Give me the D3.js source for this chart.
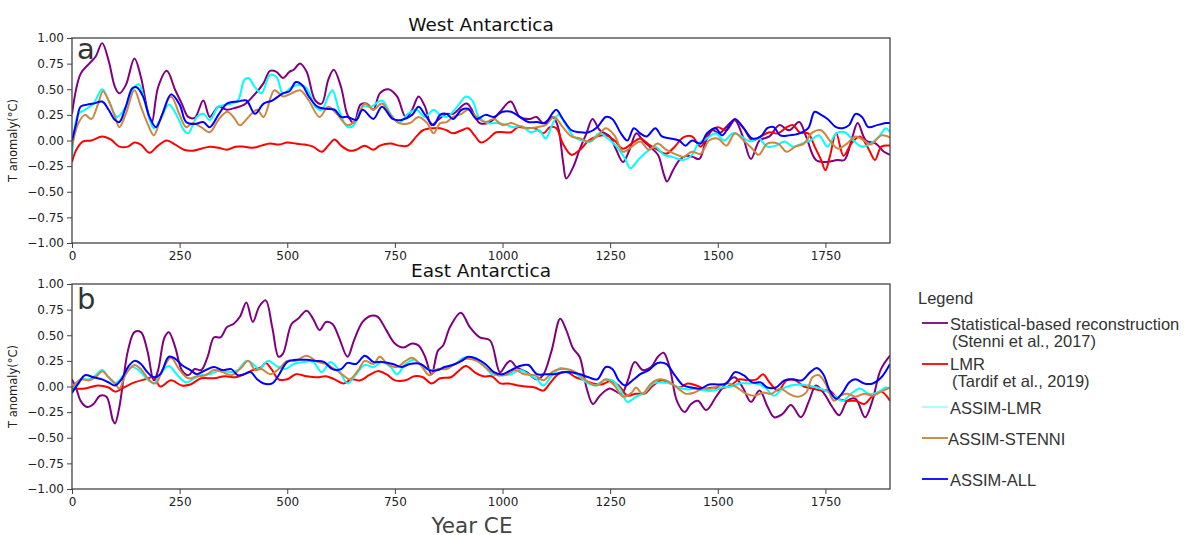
<!DOCTYPE html>
<html>
<head>
<meta charset="utf-8">
<script src="https://cdnjs.cloudflare.com/ajax/libs/d3/7.8.5/d3.min.js"></script>
<style>
  html, body { margin: 0; padding: 0; background: #fff; }
  svg { display: block; }
</style>
</head>
<body>
<svg id="chart" width="1189" height="535"></svg>
<script>
// ---- West Antarctica: [year CE, T anomaly °C] ----
const westStenni = [[0,0.26],[20,0.65],[40,0.75],[55,0.82],[70,0.95],[85,0.78],[100,0.52],[110,0.46],[125,0.54],[145,0.80],[160,0.62],[175,0.30],[185,0.17],[200,0.52],[220,0.68],[240,0.49],[255,0.36],[270,0.23],[285,0.22],[305,0.39],[320,0.23],[340,0.33],[360,0.30],[380,0.32],[400,0.35],[420,0.43],[445,0.56],[460,0.68],[475,0.67],[490,0.61],[505,0.67],[515,0.69],[530,0.75],[545,0.67],[565,0.39],[580,0.36],[595,0.59],[608,0.69],[625,0.52],[640,0.25],[655,0.17],[670,0.35],[685,0.36],[700,0.30],[715,0.46],[735,0.50],[755,0.43],[775,0.23],[790,0.30],[805,0.43],[820,0.33],[835,0.15],[850,0.20],[870,0.26],[885,0.26],[917,0.36],[947,0.17],[971,0.18],[994,0.28],[1019,0.38],[1040,0.23],[1063,0.21],[1079,0.23],[1094,0.17],[1117,0.23],[1129,0.13],[1141,-0.22],[1148,-0.37],[1164,-0.26],[1179,-0.09],[1195,0.07],[1209,0.21],[1226,0.10],[1249,0.04],[1264,-0.09],[1280,-0.21],[1295,-0.09],[1311,0.07],[1326,0.00],[1342,-0.06],[1361,-0.14],[1374,-0.32],[1382,-0.40],[1396,-0.29],[1411,-0.19],[1427,-0.15],[1442,-0.16],[1457,-0.18],[1473,0.00],[1488,0.10],[1504,0.07],[1519,0.13],[1539,0.20],[1558,0.04],[1577,-0.18],[1597,0.00],[1620,0.04],[1643,0.15],[1666,0.10],[1689,0.18],[1705,0.04],[1728,-0.19],[1751,-0.21],[1778,-0.19],[1794,-0.19],[1813,0.04],[1825,0.17],[1844,0.00],[1867,-0.03],[1886,-0.11],[1900,-0.14]];
const westLMR = [[0,-0.21],[10,-0.09],[25,-0.01],[45,0.00],[70,0.04],[90,0.01],[110,-0.06],[130,-0.06],[145,-0.02],[160,-0.04],[180,-0.12],[200,-0.05],[220,0.00],[240,-0.04],[260,-0.09],[280,-0.10],[300,-0.08],[320,-0.06],[340,-0.07],[360,-0.09],[380,-0.06],[400,-0.06],[420,-0.07],[440,-0.05],[460,-0.03],[480,-0.04],[500,-0.02],[520,-0.03],[540,-0.04],[560,-0.06],[580,-0.11],[595,-0.05],[610,0.01],[625,-0.05],[645,-0.10],[660,-0.09],[680,-0.05],[700,-0.09],[715,-0.05],[740,-0.03],[760,-0.05],[780,-0.05],[800,0.04],[815,0.10],[840,0.12],[855,0.12],[870,0.10],[885,0.07],[905,0.10],[920,0.12],[935,0.05],[950,-0.02],[965,0.01],[985,0.08],[1005,0.08],[1020,0.08],[1035,0.13],[1055,0.12],[1075,0.12],[1095,0.07],[1110,0.13],[1125,0.12],[1140,-0.03],[1160,-0.14],[1180,-0.09],[1200,0.00],[1220,0.04],[1240,0.05],[1260,0.00],[1280,-0.08],[1300,-0.03],[1320,0.02],[1340,-0.04],[1360,-0.09],[1380,-0.13],[1400,-0.06],[1420,0.03],[1440,0.04],[1460,-0.06],[1480,0.08],[1500,0.13],[1520,0.10],[1540,0.20],[1560,0.12],[1580,0.00],[1600,0.04],[1620,0.08],[1640,0.07],[1660,0.13],[1675,0.15],[1690,0.08],[1710,0.07],[1725,-0.06],[1740,-0.19],[1750,-0.29],[1760,-0.16],[1775,0.07],[1792,-0.15],[1810,-0.03],[1830,0.04],[1850,-0.08],[1865,-0.19],[1880,-0.06],[1900,-0.05]];
const westAssimLMR = [[0,-0.16],[15,0.26],[30,0.30],[50,0.36],[70,0.50],[85,0.39],[105,0.23],[125,0.33],[140,0.49],[155,0.55],[170,0.36],[190,0.12],[205,0.20],[225,0.35],[245,0.23],[260,0.10],[270,0.07],[290,0.23],[305,0.26],[320,0.20],[340,0.33],[360,0.35],[385,0.39],[400,0.59],[410,0.61],[425,0.52],[440,0.46],[460,0.64],[475,0.62],[490,0.46],[510,0.52],[530,0.54],[545,0.51],[565,0.33],[580,0.30],[595,0.43],[605,0.49],[620,0.30],[640,0.13],[655,0.15],[675,0.33],[695,0.33],[720,0.39],[740,0.26],[760,0.17],[780,0.26],[800,0.30],[820,0.23],[840,0.30],[855,0.25],[870,0.23],[885,0.28],[900,0.36],[915,0.43],[930,0.39],[945,0.23],[965,0.17],[985,0.17],[1005,0.16],[1025,0.13],[1045,0.14],[1065,0.08],[1085,0.10],[1100,0.02],[1115,0.15],[1130,0.25],[1145,0.17],[1165,0.04],[1185,0.00],[1205,-0.01],[1225,0.07],[1245,0.02],[1265,-0.06],[1285,-0.18],[1297,-0.27],[1315,-0.19],[1335,-0.11],[1355,-0.06],[1375,-0.14],[1395,-0.16],[1420,-0.19],[1440,-0.14],[1455,-0.03],[1475,0.02],[1495,0.07],[1515,0.00],[1535,0.07],[1555,0.04],[1575,-0.01],[1595,0.02],[1615,-0.06],[1635,-0.05],[1655,-0.01],[1675,-0.06],[1695,-0.03],[1715,0.00],[1735,0.05],[1755,-0.06],[1775,0.07],[1795,0.08],[1815,0.00],[1835,-0.06],[1855,-0.03],[1875,0.04],[1890,0.12],[1900,0.08]];
const westAssimStenni = [[0,-0.06],[15,0.17],[30,0.25],[45,0.21],[60,0.35],[72,0.48],[85,0.39],[100,0.23],[110,0.13],[125,0.26],[145,0.49],[160,0.33],[175,0.17],[190,0.05],[205,0.20],[230,0.43],[250,0.25],[265,0.13],[280,0.17],[300,0.13],[320,0.08],[340,0.20],[360,0.28],[375,0.23],[390,0.15],[410,0.23],[430,0.30],[445,0.23],[470,0.49],[490,0.43],[510,0.46],[530,0.49],[550,0.39],[575,0.23],[595,0.33],[615,0.26],[640,0.15],[660,0.20],[680,0.36],[700,0.30],[720,0.36],[740,0.25],[760,0.17],[785,0.17],[805,0.23],[825,0.17],[840,0.07],[855,0.17],[870,0.18],[885,0.23],[905,0.26],[920,0.30],[940,0.23],[960,0.18],[980,0.21],[1000,0.15],[1020,0.17],[1040,0.14],[1060,0.12],[1080,0.13],[1100,0.15],[1120,0.23],[1140,0.13],[1160,0.04],[1180,0.02],[1200,-0.01],[1220,0.04],[1240,0.12],[1260,0.05],[1280,-0.11],[1300,-0.06],[1320,-0.01],[1340,-0.09],[1360,-0.03],[1380,-0.09],[1400,-0.13],[1420,-0.16],[1440,-0.11],[1460,-0.13],[1480,0.00],[1500,0.02],[1520,-0.05],[1540,0.07],[1560,0.00],[1580,-0.08],[1595,-0.14],[1615,-0.03],[1640,-0.03],[1660,-0.11],[1680,-0.06],[1700,-0.03],[1720,0.08],[1740,0.10],[1760,0.00],[1780,-0.08],[1800,-0.03],[1820,0.04],[1840,0.00],[1855,-0.04],[1880,0.05],[1900,0.03]];
const westAssimAll = [[0,0.00],[10,0.17],[20,0.33],[35,0.35],[50,0.36],[70,0.38],[85,0.30],[100,0.20],[110,0.18],[125,0.33],[140,0.51],[150,0.52],[165,0.43],[180,0.23],[195,0.13],[210,0.26],[230,0.45],[250,0.35],[265,0.18],[285,0.16],[305,0.18],[320,0.13],[340,0.25],[360,0.36],[385,0.38],[405,0.39],[425,0.26],[445,0.36],[465,0.39],[490,0.46],[505,0.48],[520,0.57],[535,0.54],[550,0.43],[570,0.33],[590,0.31],[610,0.30],[625,0.23],[640,0.23],[660,0.20],[675,0.30],[700,0.21],[720,0.33],[745,0.21],[765,0.20],[790,0.25],[805,0.33],[820,0.25],[840,0.15],[855,0.25],[870,0.26],[885,0.21],[905,0.30],[920,0.31],[940,0.21],[960,0.25],[980,0.23],[1000,0.28],[1020,0.28],[1040,0.23],[1060,0.18],[1080,0.18],[1100,0.17],[1115,0.26],[1125,0.30],[1140,0.21],[1160,0.10],[1180,0.08],[1200,0.08],[1220,0.13],[1240,0.23],[1255,0.21],[1275,0.07],[1290,0.00],[1305,0.12],[1320,0.07],[1335,0.04],[1355,0.12],[1370,0.04],[1390,0.02],[1410,0.00],[1425,-0.05],[1440,0.00],[1460,-0.03],[1475,0.07],[1495,0.12],[1510,0.05],[1525,0.13],[1540,0.21],[1560,0.12],[1580,0.02],[1600,0.04],[1615,0.12],[1630,0.13],[1645,0.05],[1665,0.05],[1690,0.07],[1710,0.12],[1725,0.28],[1740,0.25],[1755,0.21],[1775,0.13],[1790,0.12],[1805,0.15],[1820,0.26],[1835,0.23],[1850,0.13],[1870,0.15],[1890,0.17],[1900,0.17]];

// ---- East Antarctica: [year CE, T anomaly °C] ----
const eastStenni = [[0,0.07],[10,-0.02],[20,-0.14],[35,-0.20],[50,-0.17],[65,-0.09],[80,-0.10],[95,-0.33],[100,-0.36],[110,-0.20],[120,0.09],[130,0.35],[145,0.53],[160,0.53],[175,0.35],[190,0.06],[200,0.16],[215,0.48],[225,0.53],[240,0.38],[255,0.16],[270,0.11],[285,0.17],[300,0.16],[315,0.29],[330,0.48],[345,0.48],[360,0.58],[375,0.61],[390,0.68],[405,0.82],[420,0.63],[435,0.78],[450,0.84],[465,0.58],[480,0.29],[490,0.32],[510,0.61],[525,0.66],[545,0.74],[560,0.66],[575,0.55],[590,0.63],[605,0.61],[620,0.48],[640,0.29],[655,0.45],[675,0.63],[695,0.69],[710,0.68],[730,0.55],[750,0.42],[770,0.38],[790,0.42],[805,0.40],[820,0.29],[835,0.12],[850,0.35],[862,0.40],[878,0.58],[903,0.72],[924,0.58],[947,0.48],[971,0.45],[994,0.14],[1009,0.22],[1019,0.25],[1032,0.19],[1056,0.14],[1079,0.07],[1094,0.11],[1114,0.35],[1134,0.66],[1148,0.55],[1164,0.37],[1179,0.29],[1195,-0.01],[1210,-0.17],[1226,-0.09],[1249,-0.02],[1276,-0.07],[1291,0.06],[1307,0.24],[1326,0.16],[1345,0.19],[1361,0.29],[1374,0.33],[1388,0.19],[1405,-0.14],[1423,-0.25],[1438,-0.17],[1454,-0.14],[1473,-0.23],[1496,-0.10],[1519,0.03],[1539,0.09],[1558,-0.01],[1577,-0.15],[1597,-0.04],[1616,-0.20],[1631,-0.30],[1650,-0.27],[1670,-0.18],[1693,-0.30],[1712,-0.14],[1728,0.01],[1747,-0.07],[1766,-0.20],[1782,-0.28],[1801,-0.14],[1820,-0.12],[1842,-0.30],[1859,-0.14],[1878,0.16],[1900,0.30]];
const eastLMR = [[0,-0.02],[30,-0.02],[60,0.01],[85,-0.01],[100,-0.05],[120,-0.01],[145,0.04],[170,0.07],[190,0.09],[205,0.00],[230,0.06],[255,0.01],[275,0.02],[300,0.08],[330,0.08],[355,0.10],[380,0.09],[400,0.12],[420,0.16],[440,0.19],[450,0.23],[465,0.16],[480,0.07],[500,0.07],[520,0.12],[545,0.10],[570,0.09],[590,0.10],[610,0.07],[630,0.03],[650,0.07],[670,0.06],[690,0.11],[710,0.15],[730,0.12],[750,0.06],[775,0.06],[795,0.10],[815,0.09],[835,0.03],[855,0.08],[880,0.09],[895,0.14],[915,0.20],[935,0.14],[955,0.10],[975,0.10],[995,0.03],[1015,0.03],[1035,0.01],[1055,0.00],[1075,-0.01],[1095,-0.04],[1110,0.03],[1130,0.12],[1150,0.14],[1170,0.09],[1190,0.06],[1210,0.03],[1230,0.02],[1250,0.05],[1270,0.01],[1290,-0.09],[1310,-0.07],[1330,-0.07],[1350,0.01],[1370,0.06],[1390,0.03],[1410,-0.01],[1430,0.03],[1450,0.01],[1470,-0.02],[1490,-0.01],[1510,-0.02],[1530,0.01],[1550,0.07],[1570,0.06],[1590,0.07],[1605,0.12],[1620,0.04],[1640,-0.04],[1660,0.06],[1680,0.06],[1700,0.00],[1720,-0.02],[1740,-0.04],[1760,-0.04],[1780,-0.12],[1800,-0.14],[1820,-0.14],[1840,-0.17],[1860,-0.09],[1880,-0.05],[1900,-0.14]];
const eastAssimLMR = [[0,-0.07],[20,0.07],[40,0.07],[55,0.11],[70,0.16],[85,0.09],[100,0.03],[120,0.11],[140,0.19],[155,0.16],[175,0.07],[190,0.03],[205,0.12],[225,0.20],[245,0.11],[265,0.04],[280,0.07],[300,0.11],[320,0.12],[345,0.16],[365,0.14],[385,0.16],[405,0.25],[420,0.22],[435,0.17],[455,0.25],[475,0.20],[495,0.17],[515,0.22],[540,0.24],[560,0.24],[580,0.14],[600,0.24],[620,0.16],[640,0.03],[660,0.12],[680,0.21],[700,0.19],[720,0.24],[740,0.19],[755,0.12],[775,0.22],[795,0.26],[815,0.19],[835,0.16],[855,0.17],[870,0.19],[890,0.22],[910,0.28],[935,0.28],[955,0.22],[975,0.12],[1000,0.11],[1020,0.12],[1040,0.16],[1060,0.12],[1080,0.07],[1095,0.01],[1115,0.11],[1135,0.18],[1155,0.16],[1175,0.11],[1195,0.04],[1215,0.01],[1235,0.06],[1255,0.06],[1275,-0.04],[1290,-0.15],[1310,-0.10],[1330,-0.06],[1350,0.03],[1370,0.04],[1390,0.03],[1410,-0.01],[1430,-0.03],[1450,-0.02],[1470,-0.04],[1490,-0.04],[1510,-0.01],[1530,0.00],[1550,0.03],[1570,0.03],[1590,0.03],[1610,-0.01],[1630,-0.09],[1650,-0.02],[1670,0.01],[1690,0.02],[1710,0.01],[1730,-0.01],[1750,-0.04],[1770,-0.09],[1790,-0.14],[1810,-0.07],[1830,-0.02],[1850,-0.07],[1870,-0.06],[1890,-0.01],[1900,-0.02]];
const eastAssimStenni = [[0,-0.01],[20,0.07],[40,0.06],[55,0.09],[70,0.15],[85,0.09],[100,0.03],[110,-0.02],[125,0.12],[145,0.21],[160,0.17],[180,0.06],[195,0.03],[210,0.16],[230,0.28],[250,0.16],[270,0.08],[290,0.10],[310,0.11],[330,0.16],[350,0.14],[370,0.11],[390,0.17],[410,0.25],[425,0.16],[440,0.17],[460,0.12],[480,0.17],[500,0.25],[520,0.25],[545,0.30],[570,0.24],[590,0.22],[610,0.17],[630,0.11],[645,0.07],[665,0.16],[680,0.25],[700,0.22],[715,0.29],[735,0.21],[755,0.19],[775,0.25],[790,0.28],[810,0.21],[830,0.11],[850,0.17],[870,0.17],[890,0.22],[915,0.27],[940,0.25],[965,0.17],[990,0.11],[1010,0.12],[1030,0.16],[1050,0.12],[1075,0.11],[1095,0.06],[1115,0.14],[1135,0.17],[1160,0.16],[1180,0.11],[1200,0.04],[1220,0.01],[1240,0.07],[1260,0.01],[1280,-0.10],[1300,-0.06],[1310,-0.01],[1325,-0.07],[1345,0.03],[1365,0.07],[1385,0.05],[1405,-0.01],[1425,-0.07],[1445,-0.06],[1465,-0.02],[1485,-0.02],[1505,0.01],[1525,0.03],[1545,-0.01],[1565,-0.07],[1585,-0.09],[1605,-0.06],[1625,-0.07],[1645,-0.02],[1665,-0.07],[1685,-0.10],[1705,-0.06],[1720,0.09],[1735,0.11],[1750,0.03],[1770,-0.14],[1785,-0.09],[1800,-0.07],[1820,-0.10],[1840,-0.07],[1860,-0.09],[1880,-0.05],[1900,-0.01]];
const eastAssimAll = [[0,-0.06],[15,0.03],[30,0.11],[50,0.09],[70,0.07],[85,0.04],[100,0.01],[115,0.07],[130,0.19],[145,0.25],[160,0.22],[175,0.14],[190,0.09],[205,0.12],[225,0.29],[240,0.27],[255,0.21],[275,0.16],[290,0.12],[310,0.16],[330,0.19],[350,0.16],[370,0.17],[385,0.11],[400,0.12],[415,0.14],[430,0.07],[445,0.03],[465,0.03],[480,0.11],[500,0.24],[520,0.26],[545,0.26],[565,0.25],[585,0.24],[605,0.17],[625,0.17],[640,0.23],[660,0.22],[680,0.30],[700,0.24],[720,0.24],[745,0.22],[765,0.19],[785,0.22],[810,0.22],[830,0.16],[850,0.16],[865,0.19],[875,0.20],[890,0.22],[905,0.25],[920,0.29],[940,0.27],[960,0.22],[980,0.14],[1000,0.12],[1020,0.16],[1040,0.20],[1060,0.21],[1080,0.12],[1100,0.12],[1120,0.12],[1140,0.14],[1160,0.14],[1180,0.12],[1200,0.09],[1220,0.07],[1240,0.19],[1255,0.17],[1270,0.06],[1285,0.01],[1305,0.07],[1320,0.12],[1340,0.16],[1360,0.23],[1380,0.22],[1400,0.11],[1420,0.01],[1440,-0.01],[1460,-0.02],[1480,0.02],[1500,0.02],[1520,0.03],[1540,0.14],[1560,0.11],[1580,0.04],[1600,0.04],[1615,-0.01],[1635,-0.01],[1655,0.06],[1675,0.07],[1695,0.06],[1715,0.14],[1730,0.18],[1745,0.12],[1760,-0.04],[1775,-0.12],[1790,-0.06],[1805,0.04],[1820,0.07],[1840,0.03],[1860,0.03],[1880,0.09],[1900,0.22]];

// ---- Axes ticks and labels ----
const yTicks = [-1, -0.75, -0.5, -0.25, 0, 0.25, 0.5, 0.75, 1];
const xTicks = [0, 250, 500, 750, 1000, 1250, 1500, 1750];
const seriesNames = ["Statistical-based reconstruction", "LMR", "ASSIM-LMR", "ASSIM-STENNI", "ASSIM-ALL"];
const seriesColors = ["#800080", "#ff0000", "#00ffff", "#cd853f", "#0000ff"];

const svg = d3.select("#chart");
const tickFont = "DejaVu Sans, sans-serif";

const x = d3.scaleLinear().domain([0, 1900]).range([72, 890]);

const panels = [
  { title: "West Antarctica", letter: "a", top: 38, bottom: 243, titleY: 31, letterY: 59,
    series: [westStenni, westLMR, westAssimLMR, westAssimStenni, westAssimAll] },
  { title: "East Antarctica", letter: "b", top: 284, bottom: 489, titleY: 277, letterY: 309,
    series: [eastStenni, eastLMR, eastAssimLMR, eastAssimStenni, eastAssimAll] }
];

panels.forEach((p, pi) => {
  const y = d3.scaleLinear().domain([-1, 1]).range([p.bottom, p.top]);
  const g = svg.append("g");

  const clipId = "clip" + pi;
  svg.append("clipPath").attr("id", clipId)
    .append("rect").attr("x", x.range()[0]).attr("y", p.top)
    .attr("width", x.range()[1] - x.range()[0]).attr("height", p.bottom - p.top);

  const line = d3.line()
    .x(d => x(d[0])).y(d => y(d[1]))
    .curve(d3.curveCatmullRom.alpha(0.5));

  const lines = g.append("g").attr("clip-path", `url(#${clipId})`);
  p.series.forEach((s, i) => {
    lines.append("path").datum(s)
      .attr("d", line)
      .attr("fill", "none")
      .attr("stroke", seriesColors[i])
      .attr("stroke-width", 2)
      .attr("stroke-linejoin", "round");
  });

  // frame
  g.append("rect")
    .attr("x", x.range()[0]).attr("y", p.top)
    .attr("width", x.range()[1] - x.range()[0]).attr("height", p.bottom - p.top)
    .attr("fill", "none").attr("stroke", "#444").attr("stroke-width", 1.3);

  const yAxis = d3.axisLeft(y).tickValues(yTicks).tickFormat(d3.format(".2f")).tickSize(5).tickPadding(3);
  const ya = g.append("g").attr("transform", `translate(${x.range()[0]},0)`).call(yAxis);
  const xAxis = d3.axisBottom(x).tickValues(xTicks).tickFormat(d3.format("d")).tickSize(5).tickPadding(3);
  const xa = g.append("g").attr("transform", `translate(0,${p.bottom})`).call(xAxis);
  [ya, xa].forEach(a => {
    a.select(".domain").remove();
    a.selectAll(".tick line").attr("stroke", "#444");
    a.selectAll("text").attr("font-family", tickFont).attr("font-size", 12).attr("fill", "#222");
  });

  g.append("text")
    .attr("x", 481).attr("y", p.titleY)
    .attr("text-anchor", "middle")
    .attr("font-family", tickFont).attr("font-size", 18.5).attr("fill", "#111")
    .text(p.title);

  g.append("text")
    .attr("x", 77).attr("y", p.letterY)
    .attr("font-family", tickFont).attr("font-size", 29).attr("fill", "#333")
    .text(p.letter);

  g.append("text")
    .attr("transform", `translate(17,${(p.top + p.bottom) / 2}) rotate(-90)`)
    .attr("text-anchor", "middle")
    .attr("font-family", tickFont).attr("font-size", 11.5).attr("fill", "#222")
    .text("T anomaly(°C)");
});

svg.append("text")
  .attr("x", 472).attr("y", 533)
  .attr("text-anchor", "middle")
  .attr("font-family", tickFont).attr("font-size", 21.5).attr("fill", "#444")
  .text("Year CE");

// ---- Legend ----
const legendFont = "Liberation Sans, Arial, sans-serif";
const legend = svg.append("g").attr("font-family", legendFont).attr("font-size", 16.5).attr("fill", "#333");
legend.append("text").attr("x", 918).attr("y", 304).text("Legend");
const legendLineColors = ["#7f1f7f", "#ff1a1a", "#a8ffff", "#d08c4a", "#1a1aff"];
const legendRows = [
  { lineY: 323, lines: [[950, 330, seriesNames[0]], [952, 347, "(Stenni et al., 2017)"]] },
  { lineY: 364, lines: [[950, 370, seriesNames[1]], [952, 387, "(Tardif et al., 2019)"]] },
  { lineY: 407, lines: [[950, 414, seriesNames[2]]] },
  { lineY: 438, lines: [[948, 445, seriesNames[3]]] },
  { lineY: 479, lines: [[950, 486, seriesNames[4]]] }
];
legendRows.forEach((r, i) => {
  legend.append("line")
    .attr("x1", 922).attr("x2", 948).attr("y1", r.lineY).attr("y2", r.lineY)
    .attr("stroke", legendLineColors[i]).attr("stroke-width", 2);
  r.lines.forEach(t => {
    legend.append("text").attr("x", t[0]).attr("y", t[1]).text(t[2]);
  });
});
</script>
</body>
</html>
